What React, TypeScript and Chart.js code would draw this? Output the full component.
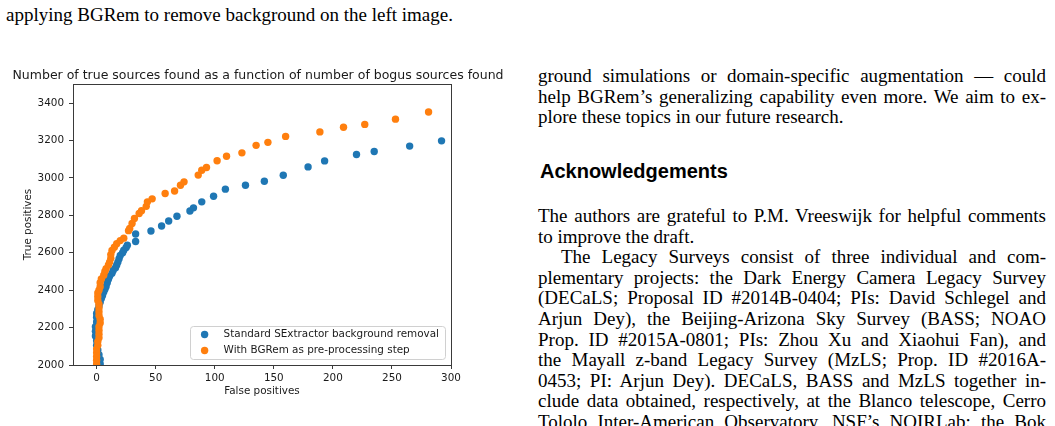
import React, { useEffect, useLayoutEffect, useRef } from "react";
import { Chart, registerables } from "chart.js";

Chart.register(...registerables);

// ---------------- chart data ----------------
const chartTitle = "Number of true sources found as a function of number of bogus sources found";
const xAxisTitle = "False positives";
const yAxisTitle = "True positives";
const seriesLabels = ["Standard SExtractor background removal", "With BGRem as pre-processing step"];
const seriesColors = ["#1f77b4", "#ff7f0e"];
const xTickValues = [0, 50, 100, 150, 200, 250, 300];
const yTickValues = [2000, 2200, 2400, 2600, 2800, 3000, 3200, 3400];
const xLimits = [-20, 300];
const yLimits = [2000, 3502];

const standardFalsePositives = [
  3, 3, 2, 1, 0, 0, -1, -1, -1, 0, 0, 0, 1, 2, 3, 4, 5, 6, 7, 8, 9, 10, 11, 13, 14, 16, 17, 18, 19, 20,
  22, 23, 25, 26, 33, 33, 46, 55, 61, 68, 79, 82, 89, 99, 109, 126, 142, 158, 179, 193, 220, 235, 265, 292,
];
const standardTruePositives = [
  2005, 2030, 2055, 2080, 2105, 2130, 2155, 2180, 2205, 2230, 2255, 2275, 2295, 2315, 2335, 2355, 2372,
  2390, 2405, 2420, 2440, 2458, 2475, 2490, 2505, 2520, 2535, 2550, 2568, 2585, 2600, 2613, 2628, 2640,
  2660, 2700, 2716, 2743, 2770, 2795, 2823, 2840, 2872, 2902, 2940, 2961, 2982, 3014, 3059, 3091, 3125,
  3141, 3170, 3198,
];

const bgremFalsePositives = [
  0, 0, 0, 0, 0, 1, 1, 2, 2, 2, 2, 3, 3, 2, 2, 2, 2, 1, 1, 1, 2, 3, 3, 4, 6, 7, 8, 10, 11, 12, 12, 13,
  15, 17, 20, 23, 27, 28, 30, 32, 36, 38, 42, 43, 47, 58, 66, 71, 74, 86, 89, 93, 102, 110, 123, 135,
  145, 160, 189, 209, 227, 253, 281,
];
const bgremTruePositives = [
  2005, 2025, 2045, 2065, 2085, 2105, 2125, 2145, 2165, 2185, 2205, 2225, 2245, 2265, 2285, 2305, 2325,
  2345, 2365, 2385, 2400, 2418, 2440, 2460, 2480, 2500, 2515, 2535, 2550, 2570, 2590, 2612, 2630, 2648,
  2665, 2678, 2718, 2730, 2756, 2783, 2810, 2825, 2848, 2872, 2888, 2917, 2930, 2961, 2979, 3015, 3041,
  3056, 3092, 3116, 3134, 3174, 3190, 3222, 3246, 3271, 3286, 3314, 3352,
];

// ---------------- page text ----------------
const captionTail = "applying BGRem to remove background on the left image.";
const paragraphOne = [
  "ground simulations or domain-specific augmentation — could",
  "help BGRem’s generalizing capability even more. We aim to ex-",
  "plore these topics in our future research.",
];
const headingText = "Acknowledgements";
const paragraphTwo = [
  "The authors are grateful to P.M. Vreeswijk for helpful comments",
  "to improve the draft.",
];
const paragraphThree = [
  "The Legacy Surveys consist of three individual and com-",
  "plementary projects: the Dark Energy Camera Legacy Survey",
  "(DECaLS; Proposal ID #2014B-0404; PIs: David Schlegel and",
  "Arjun Dey), the Beijing-Arizona Sky Survey (BASS; NOAO",
  "Prop. ID #2015A-0801; PIs: Zhou Xu and Xiaohui Fan), and",
  "the Mayall z-band Legacy Survey (MzLS; Prop. ID #2016A-",
  "0453; PI: Arjun Dey). DECaLS, BASS and MzLS together in-",
  "clude data obtained, respectively, at the Blanco telescope, Cerro",
  "Tololo Inter-American Observatory, NSF’s NOIRLab; the Bok",
];

const SANS = '"DejaVu Sans", sans-serif';
const SERIF = '"Liberation Serif", "Times New Roman", serif';
const TEXT_PX = 19;
const LINE_STEP = 20.6;
const COL_LEFT = 538;
const COL_WIDTH = 508;
const SMALL_PX = 10.4;

function TextLine(props: {
  text: string;
  center: number;
  left: number;
  width: number;
  justify: boolean;
  indent?: number;
}) {
  const ref = useRef<HTMLDivElement>(null);
  const indent = props.indent || 0;
  useLayoutEffect(() => {
    const el = ref.current;
    if (!el) return;
    el.style.wordSpacing = "0px";
    if (!props.justify) return;
    const span = el.firstChild as HTMLSpanElement;
    const natural = span.getBoundingClientRect().width;
    const spaces = (props.text.match(/ /g) || []).length;
    if (spaces > 0) {
      el.style.wordSpacing = (props.width - indent - natural) / spaces + "px";
    }
  });
  const top = props.center - 9;
  return (
    <div
      ref={ref}
      style={{
        position: "absolute",
        left: props.left + indent,
        top,
        height: TEXT_PX,
        lineHeight: TEXT_PX + "px",
        fontFamily: SERIF,
        fontSize: TEXT_PX,
        color: "#000",
        whiteSpace: "nowrap",
      }}
    >
      <span>{props.text}</span>
    </div>
  );
}

function ScatterChart() {
  const canvasRef = useRef<HTMLCanvasElement>(null);

  useEffect(() => {
    const canvas = canvasRef.current;
    if (!canvas) return;

    const framePlugin = {
      id: "frameAndTitle",
      afterDatasetsDraw(chart: any) {
        const { ctx, chartArea: ca } = chart;
        ctx.save();
        ctx.strokeStyle = "#3a3a3a";
        ctx.lineWidth = 1;
        ctx.strokeRect(
          Math.round(ca.left) + 0.5,
          Math.round(ca.top) + 0.5,
          Math.round(ca.right) - Math.round(ca.left),
          Math.round(ca.bottom) - Math.round(ca.top)
        );
        ctx.fillStyle = "#1a1a1a";
        ctx.font = `12.5px ${SANS}`;
        ctx.textAlign = "center";
        ctx.textBaseline = "middle";
        ctx.fillText(chartTitle, (ca.left + ca.right) / 2 - 4, ca.top - 8);
        ctx.restore();
      },
    };

    const legendPlugin = {
      id: "insideLegend",
      afterDraw(chart: any) {
        const { ctx, chartArea: ca } = chart;
        ctx.save();
        ctx.font = `${SMALL_PX}px ${SANS}`;
        const textW = Math.max(...seriesLabels.map((l) => ctx.measureText(l).width));
        const boxW = 34 + textW + 6;
        const boxH = 33;
        const right = ca.right - 6;
        const bottom = ca.bottom - 6;
        const left = right - boxW;
        const top = bottom - boxH;
        ctx.beginPath();
        (ctx as any).roundRect(Math.round(left) + 0.5, Math.round(top) + 0.5, Math.round(boxW), boxH, 3);
        ctx.fillStyle = "rgba(255,255,255,0.8)";
        ctx.fill();
        ctx.strokeStyle = "#d0d0d0";
        ctx.lineWidth = 1;
        ctx.stroke();
        seriesLabels.forEach((label, i) => {
          const cy = top + 8.5 + i * 16;
          ctx.beginPath();
          ctx.arc(left + 15, cy, 3.7, 0, Math.PI * 2);
          ctx.fillStyle = seriesColors[i];
          ctx.fill();
          ctx.fillStyle = "#1a1a1a";
          ctx.textAlign = "left";
          ctx.textBaseline = "middle";
          ctx.fillText(label, left + 34, cy);
        });
        ctx.restore();
      },
    };

    const tickFont = { family: SANS, size: SMALL_PX };
    const chart = new Chart(canvas, {
      type: "scatter",
      data: {
        datasets: [
          {
            label: seriesLabels[0],
            data: standardFalsePositives.map((x, i) => ({ x, y: standardTruePositives[i] })),
            backgroundColor: seriesColors[0],
            borderColor: seriesColors[0],
            pointRadius: 3.7,
            pointBorderWidth: 0,
            pointHoverRadius: 3.7,
            clip: 0,
            order: 2,
          },
          {
            label: seriesLabels[1],
            data: bgremFalsePositives.map((x, i) => ({ x, y: bgremTruePositives[i] })),
            backgroundColor: seriesColors[1],
            borderColor: seriesColors[1],
            pointRadius: 3.7,
            pointBorderWidth: 0,
            pointHoverRadius: 3.7,
            clip: 0,
            order: 1,
          },
        ],
      },
      options: {
        responsive: false,
        animation: false,
        devicePixelRatio: 1,
        events: [],
        layout: { padding: { left: 0, right: 79, top: 24, bottom: 5 } },
        plugins: {
          legend: { display: false },
          tooltip: { enabled: false },
          title: { display: false },
        },
        scales: {
          x: {
            type: "linear",
            min: xLimits[0],
            max: xLimits[1],
            afterBuildTicks: (s: any) => {
              s.ticks = xTickValues.map((v) => ({ value: v }));
            },
            afterFit: (s: any) => {
              s.height = 36;
            },
            grid: { display: true, drawOnChartArea: false, drawTicks: true, tickLength: 4, color: "#3a3a3a" },
            border: { display: false },
            ticks: {
              color: "#1a1a1a",
              font: tickFont,
              padding: 3,
              maxRotation: 0,
              autoSkip: false,
              callback: (v: any) => String(v),
            },
            title: {
              display: true,
              text: xAxisTitle,
              color: "#1a1a1a",
              font: tickFont,
              padding: { top: 0, bottom: 3 },
            },
          },
          y: {
            type: "linear",
            min: yLimits[0],
            max: yLimits[1],
            afterBuildTicks: (s: any) => {
              s.ticks = yTickValues.map((v) => ({ value: v }));
            },
            afterFit: (s: any) => {
              s.width = 73;
            },
            grid: { display: true, drawOnChartArea: false, drawTicks: true, tickLength: 4, color: "#3a3a3a" },
            border: { display: false },
            ticks: {
              color: "#1a1a1a",
              font: tickFont,
              padding: 5,
              autoSkip: false,
              callback: (v: any) => String(v),
            },
            title: {
              display: true,
              text: yAxisTitle,
              color: "#1a1a1a",
              font: tickFont,
              padding: { top: 22, bottom: 0 },
            },
          },
        },
      },
      plugins: [framePlugin, legendPlugin],
    } as any);

    return () => chart.destroy();
  }, []);

  return (
    <canvas
      ref={canvasRef}
      width={530}
      height={346}
      style={{ position: "absolute", left: 0, top: 60, width: 530, height: 346 }}
    />
  );
}

export default function App() {
  const p1Start = 75;
  const headingCenter = 171;
  const p2Start = 215;
  const p3Start = p2Start + 2 * LINE_STEP;
  return (
    <div
      style={{
        position: "fixed",
        left: 0,
        top: 0,
        width: 1055,
        height: 426,
        overflow: "hidden",
        background: "#fff",
      }}
    >
      <TextLine text={captionTail} center={14} left={6} width={520} justify={false} />
      <ScatterChart />
      {paragraphOne.map((t, i) => (
        <TextLine
          key={"p1" + i}
          text={t}
          center={p1Start + i * LINE_STEP}
          left={COL_LEFT}
          width={COL_WIDTH}
          justify={i < paragraphOne.length - 1}
        />
      ))}
      <div
        style={{
          position: "absolute",
          left: 540,
          top: headingCenter - 10.5,
          height: 20,
          lineHeight: "20px",
          fontFamily: '"Liberation Sans", Arial, sans-serif',
          fontWeight: "bold",
          fontSize: 20,
          color: "#000",
          whiteSpace: "nowrap",
        }}
      >
        {headingText}
      </div>
      {paragraphTwo.map((t, i) => (
        <TextLine
          key={"p2" + i}
          text={t}
          center={p2Start + i * LINE_STEP}
          left={COL_LEFT}
          width={COL_WIDTH}
          justify={i < paragraphTwo.length - 1}
        />
      ))}
      {paragraphThree.map((t, i) => (
        <TextLine
          key={"p3" + i}
          text={t}
          center={p3Start + i * LINE_STEP}
          left={COL_LEFT}
          width={COL_WIDTH}
          justify={true}
          indent={i === 0 ? 23 : 0}
        />
      ))}
    </div>
  );
}
